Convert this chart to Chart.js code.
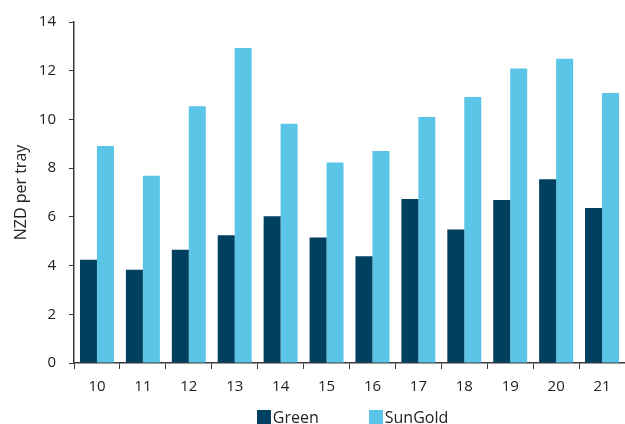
<!DOCTYPE html>
<html lang="en">
<head>
    <meta charset="UTF-8">
    <title>Kiwifruit prices</title>
    <script src="https://cdn.jsdelivr.net/npm/chart.js"></script>
    <style>
        html, body { margin: 0; padding: 0; background: #fff; }
        #wrap { width: 625px; height: 424px; position: relative; }
        #legend {
            position: absolute; left: 0; right: 0; top: 406px;
            display: flex; justify-content: center; padding-left: 80px;
            font-family: "Open Sans", "Noto Sans", sans-serif; font-size: 16px; color: #222;
        }
        #legend .item { display: flex; align-items: center; margin: 0 25px; }
        #legend .box { width: 14px; height: 14px; margin-right: 2px; }
    </style>
</head>
<body>
    <div id="wrap">
        <canvas id="priceChart"></canvas>
        <div id="legend"></div>
    </div>

    <script>
// Season labels and prices (NZD per tray)
const seasons = ['10', '11', '12', '13', '14', '15', '16', '17', '18', '19', '20', '21'];
const greenPrices = [4.24, 3.83, 4.65, 5.25, 6.03, 5.15, 4.38, 6.73, 5.48, 6.69, 7.54, 6.36];
const sunGoldPrices = [8.91, 7.69, 10.54, 12.93, 9.82, 8.23, 8.70, 10.10, 10.92, 12.09, 12.49, 11.09];
const yTicks = [0, 2, 4, 6, 8, 10, 12, 14];

const axisColor = '#3a3a3a';
const fontFamily = '"Open Sans", "Noto Sans", sans-serif';

const ctx = document.getElementById('priceChart').getContext('2d');
const chart = new Chart(ctx, {
    type: 'bar',
    data: {
        labels: seasons,
        datasets: [
            {
                label: 'Green',
                data: greenPrices,
                backgroundColor: '#02405f'
            },
            {
                label: 'SunGold',
                data: sunGoldPrices,
                backgroundColor: '#5bc5e8'
            }
        ]
    },
    options: {
        responsive: true,
        maintainAspectRatio: false,
        animation: false,
        layout: {
            padding: { top: 21, right: 0, bottom: 25, left: 0 }
        },
        plugins: {
            tooltip: { enabled: false },
            legend: { display: false }
        },
        datasets: {
            bar: {
                categoryPercentage: 0.74,
                barPercentage: 1.0
            }
        },
        scales: {
            x: {
                grid: {
                    offset: true,
                    drawOnChartArea: false,
                    drawTicks: true,
                    tickLength: 6,
                    color: axisColor
                },
                border: { color: axisColor, width: 1.5 },
                ticks: {
                    color: '#222',
                    padding: 9,
                    font: { family: fontFamily, size: 15 }
                },
                afterFit: (scale) => { scale.height = 36; }
            },
            y: {
                min: 0,
                max: 14,
                afterBuildTicks: (scale) => {
                    scale.ticks = yTicks.map(v => ({ value: v }));
                },
                grid: {
                    drawOnChartArea: false,
                    drawTicks: true,
                    tickLength: 5,
                    color: axisColor
                },
                border: { color: axisColor, width: 1.5 },
                ticks: {
                    color: '#222',
                    padding: 13,
                    font: { family: fontFamily, size: 15 }
                },
                title: {
                    display: true,
                    text: 'NZD per tray',
                    color: '#222',
                    padding: { top: 12, bottom: 0 },
                    font: { family: fontFamily, size: 16 }
                },
                afterFit: (scale) => { scale.width = 74; }
            }
        }
    }
});

// Legend built from the chart's own datasets
const legendEl = document.getElementById('legend');
chart.data.datasets.forEach(ds => {
    const item = document.createElement('div');
    item.className = 'item';
    const box = document.createElement('span');
    box.className = 'box';
    box.style.background = ds.backgroundColor;
    const text = document.createElement('span');
    text.textContent = ds.label;
    item.appendChild(box);
    item.appendChild(text);
    legendEl.appendChild(item);
});
    </script>
</body>
</html>
